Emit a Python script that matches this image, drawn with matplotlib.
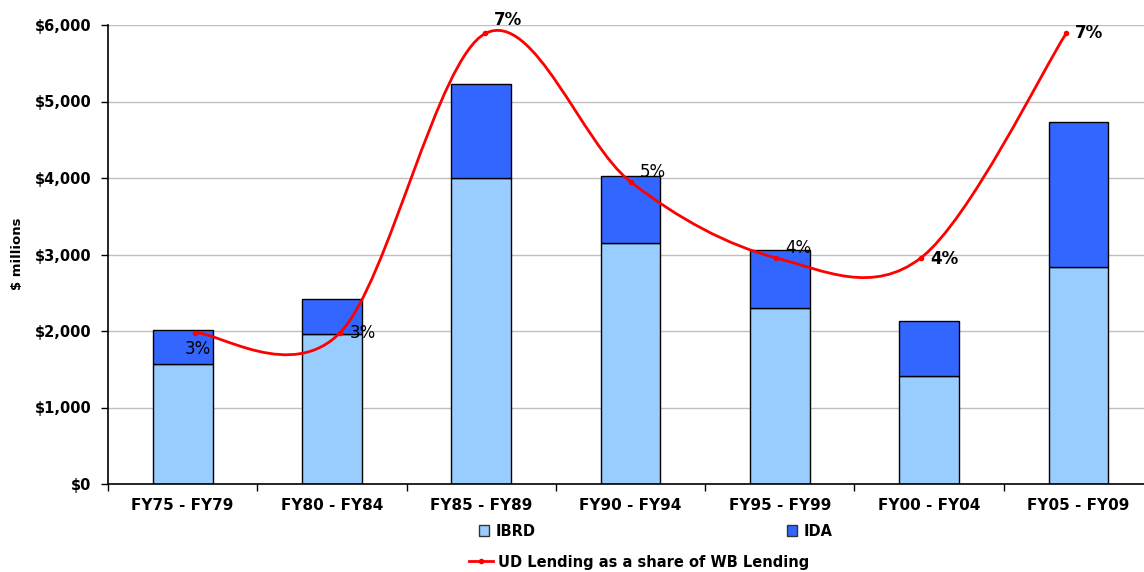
import numpy as np
import matplotlib
matplotlib.use('Agg')
import matplotlib.pyplot as plt
from matplotlib.path import Path
from matplotlib.patches import PathPatch, Patch
from matplotlib.lines import Line2D
from matplotlib.ticker import FuncFormatter, FixedLocator

periods = ['FY75 - FY79', 'FY80 - FY84', 'FY85 - FY89', 'FY90 - FY94',
           'FY95 - FY99', 'FY00 - FY04', 'FY05 - FY09']
ibrd = [1570, 1960, 4000, 3150, 2300, 1410, 2840]
ida = [440, 460, 1230, 880, 760, 720, 1890]
ud_share = [0.0251, 0.0251, 0.0747, 0.0501, 0.0375, 0.0375, 0.0747]

# data label placement (pixels from the point) and weight, placed by hand
lab_off = [(-10, -16), (10, 0), (9, 13), (9, 10), (9, 10), (9, -1), (9, 0)]
lab_bold = [False, False, True, False, False, True, True]

plt.rcParams['font.family'] = 'DejaVu Sans'
W, H = 1144, 572
fig = plt.figure(figsize=(W / 100, H / 100), dpi=100)
rect = [108 / W, 88 / H, 1045 / W, 459 / H]
ax = fig.add_axes(rect)

x = np.arange(len(periods))
ax.bar(x, ibrd, 0.4, color='#99CCFF', edgecolor='black', lw=1, zorder=2)
ax.bar(x, ida, 0.4, bottom=ibrd, color='#3366FF', edgecolor='black', lw=1,
       zorder=2)
ax.set_xlim(-0.5, len(periods) - 0.5)
ax.set_ylim(0, 6000)
ax.set_yticks(np.arange(0, 6001, 1000))
ax.yaxis.set_major_formatter(FuncFormatter(lambda v, p: '${:,.0f}'.format(v)))
ax.grid(axis='y', color='#BFBFBF', lw=1, zorder=0)
ax.set_axisbelow(True)

ax.set_xticks(x)
ax.set_xticklabels(periods, fontsize=11, fontweight='bold')
ax.xaxis.set_minor_locator(FixedLocator(np.arange(-0.5, len(periods), 1)))
ax.tick_params(axis='x', which='major', length=0, pad=10)
ax.tick_params(axis='x', which='minor', length=5, width=1)
ax.tick_params(axis='y', length=5, width=1, pad=7, labelsize=10.5)
for t in ax.get_yticklabels():
    t.set_fontweight('bold')
for s in ['top', 'right']:
    ax.spines[s].set_visible(False)
ax.spines['left'].set_linewidth(1.2)
ax.spines['bottom'].set_linewidth(1.2)

# secondary (hidden) axes for the share line, like excel's second series
ax2 = fig.add_axes(rect, frameon=False)
ax2.set_xlim(-0.599, 6.598)
ax2.set_ylim(0, 0.0761)
ax2.set_xticks([])
ax2.set_yticks([])

# excel style smoothed line: cubic bezier through the points
pts = np.column_stack([x, ud_share]).astype(float)
ext = np.vstack([pts[0], pts, pts[-1]])
verts = [pts[0]]
codes = [Path.MOVETO]
for i in range(len(pts) - 1):
    c1 = ext[i + 1] + (ext[i + 2] - ext[i]) / 6
    c2 = ext[i + 2] - (ext[i + 3] - ext[i + 1]) / 6
    verts += [c1, c2, ext[i + 2]]
    codes += [Path.CURVE4] * 3
ax2.add_patch(PathPatch(Path(verts, codes), fill=False, edgecolor='#FF0000',
                        lw=2, zorder=3))
ax2.plot(x, ud_share, 'o', color='#FF0000', ms=3, zorder=4)

for i, v in enumerate(ud_share):
    ax2.annotate('{:.0%}'.format(v), (i, v), xytext=lab_off[i],
                 textcoords='offset pixels', ha='left', va='center',
                 fontsize=12, fontweight='bold' if lab_bold[i] else 'normal')

fig.text(17 / W, 1 - 254 / H, '$ millions', rotation=90, ha='center',
         va='center', fontsize=9.5, fontweight='bold')

# legend, laid out in excel fashion
leg_kw = dict(frameon=False, borderpad=0, borderaxespad=0, loc='center left',
              prop=dict(size=10.5, weight='bold'))
h_ibrd = Patch(facecolor='#99CCFF', edgecolor='#333333')
h_ida = Patch(facecolor='#3366FF', edgecolor='#333333')
h_ud = Line2D([], [], color='#FF0000', lw=2, marker='o', ms=3)
l1 = fig.legend([h_ibrd], ['IBRD'], bbox_to_anchor=(479 / W, 1 - 531 / H),
                handlelength=0.7, handleheight=0.7, handletextpad=0.45,
                **leg_kw)
l2 = fig.legend([h_ida], ['IDA'], bbox_to_anchor=(787 / W, 1 - 531 / H),
                handlelength=0.7, handleheight=0.7, handletextpad=0.45,
                **leg_kw)
l3 = fig.legend([h_ud], ['UD Lending as a share of WB Lending'],
                bbox_to_anchor=(469 / W, 1 - 562 / H), handlelength=1.65,
                handletextpad=0.35, **leg_kw)

fig.savefig('out.png', dpi=100)
